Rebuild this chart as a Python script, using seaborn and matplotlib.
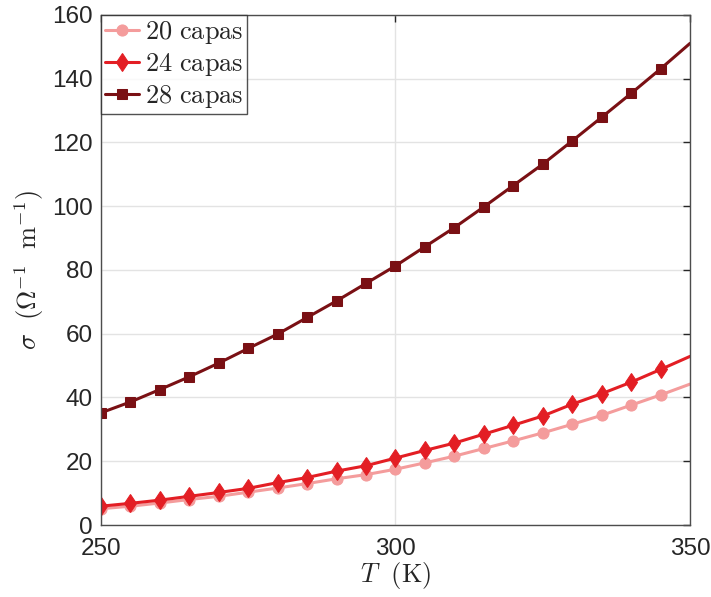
import matplotlib
matplotlib.use("Agg")
import matplotlib.pyplot as plt
import seaborn as sns
import pandas as pd

T = [250, 255, 260, 265, 270, 275, 280, 285, 290, 295, 300,
     305, 310, 315, 320, 325, 330, 335, 340, 345, 350]
sigma_20 = [5.1, 5.9, 6.9, 8.0, 9.0, 10.3, 11.6, 13.0, 14.5, 15.8, 17.5,
            19.5, 21.6, 24.0, 26.4, 28.9, 31.6, 34.4, 37.6, 40.8, 44.2]
sigma_24 = [5.9, 6.8, 7.8, 9.0, 10.2, 11.5, 13.3, 14.9, 16.9, 18.6, 21.0,
            23.4, 25.7, 28.5, 31.3, 34.2, 37.9, 41.2, 44.8, 48.8, 52.9]
sigma_28 = [35.2, 38.6, 42.5, 46.5, 50.8, 55.4, 59.9, 65.1, 70.3, 75.8, 81.3,
            87.3, 93.3, 99.8, 106.5, 113.2, 120.5, 127.9, 135.4, 143.1, 151.1]
labels = ["20 capas", "24 capas", "28 capas"]
colors = ["#F49C9C", "#E31E24", "#7A1014"]
markers = ["o", "d", "s"]
msizes = [8, 9.5, 7.5]

sns.set_style("white")
plt.rcParams["mathtext.fontset"] = "cm"
plt.rcParams["font.family"] = ["Liberation Sans", "DejaVu Sans"]

fig = plt.figure(figsize=(7.11, 5.97), dpi=100)
ax = fig.add_axes([0.142, 0.1206, 0.8285, 0.8543])

for vals, lab, c, m, ms in zip([sigma_20, sigma_24, sigma_28], labels, colors, markers, msizes):
    df = pd.DataFrame({"T": T, "s": vals})
    sns.lineplot(data=df, x="T", y="s", ax=ax, color=c, marker=m, markersize=ms,
                 markeredgecolor=c, markerfacecolor=c, linewidth=2.2,
                 markevery=list(range(len(T) - 1)),
                 label=r"$\mathrm{%s\ capas}$" % lab.split()[0])

ax.set_xlim(250, 350)
ax.set_ylim(0, 160)
ax.set_xticks([250, 300, 350])
ax.set_yticks(range(0, 161, 20))
ax.grid(True, color="#e3e3e3", linewidth=1)
ax.set_axisbelow(True)
ax.tick_params(axis="both", direction="in", length=5, width=1, colors="#262626",
               labelsize=17.5, top=True, right=True, labelcolor="#262626")
ax.tick_params(axis="x", pad=9)
ax.tick_params(axis="y", pad=6)
for sp in ax.spines.values():
    sp.set_color("#4d4d4d")
    sp.set_linewidth(1)
    sp.set_visible(True)

ax.set_xlabel(r"$T\ \ \mathrm{(K)}$", fontsize=19, labelpad=0)
ax.set_ylabel(r"$\sigma\ \ (\Omega^{-1}\ \ \mathrm{m}^{-1})$", fontsize=19, labelpad=4)

leg = ax.legend(loc="upper left", fontsize=19, frameon=True, fancybox=False,
                edgecolor="#262626", borderaxespad=0, handlelength=1.3,
                handletextpad=0.2, borderpad=0.15, labelspacing=0.2)
leg.get_frame().set_linewidth(1)

fig.savefig("out.png", dpi=100)
